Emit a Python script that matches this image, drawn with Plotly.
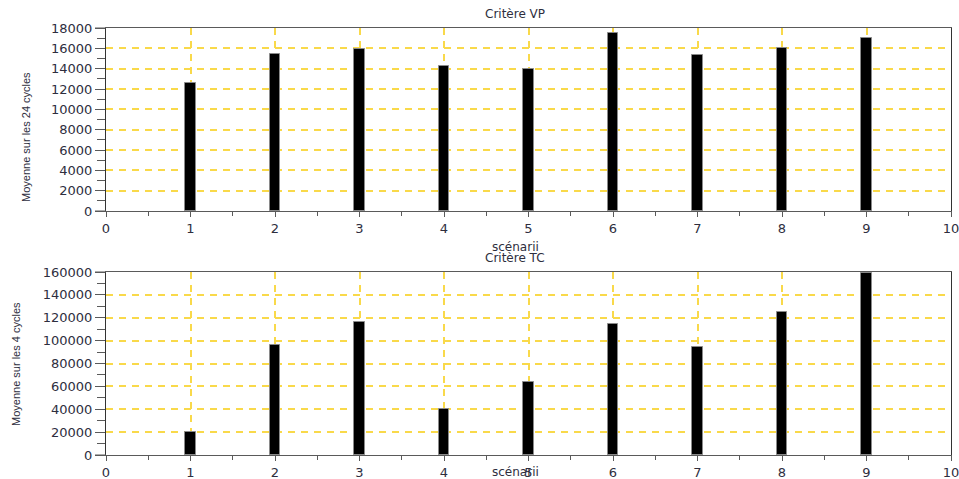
import plotly.graph_objects as go

scenarios = [1, 2, 3, 4, 5, 6, 7, 8, 9]
vp_values = [12600, 15400, 15900, 14300, 14000, 17500, 15300, 16050, 17000]
tc_values = [20400, 96500, 116500, 40000, 63500, 114500, 94000, 124800, 159500]
title_vp = "Critère VP"
title_tc = "Critère TC"
xlabel = "scénarii"
ylabel_vp = "Moyenne sur les 24 cycles"
ylabel_tc = "Moyenne sur les 4 cycles"

W, H = 959, 479
x0, x1 = 106 / W, 951 / W
top_dom = [(479 - 211) / H, (479 - 28) / H]
bot_dom = [(479 - 455) / H, (479 - 272) / H]

grid_col = "#F9D94A"
grid_dash = "7px,6px"
axis_col = "#5a5a5a"
tick_font = dict(family="DejaVu Sans", size=13, color="#2e2e3e")

fig = go.Figure()
fig.add_trace(go.Bar(x=scenarios, y=vp_values, width=0.12, xaxis="x", yaxis="y",
                     marker=dict(color="black", line=dict(color="#8a8a8a", width=1)),
                     showlegend=False))
fig.add_trace(go.Bar(x=scenarios, y=tc_values, width=0.12, xaxis="x2", yaxis="y2",
                     marker=dict(color="black", line=dict(color="#8a8a8a", width=1)),
                     showlegend=False))

no_minor_grid = dict(showgrid=False)

def xax(anchor):
    return dict(domain=[x0, x1], anchor=anchor, range=[0, 10], tick0=0, dtick=1,
                showgrid=True, gridcolor=grid_col, griddash=grid_dash, gridwidth=2,
                zeroline=False, showline=True, linecolor=axis_col, linewidth=1, mirror=True,
                ticks="outside", ticklen=5, tickcolor=axis_col, ticklabeloverflow="allow",
                minor=dict(dtick=0.5, tick0=0, ticks="outside", ticklen=4, tickcolor=axis_col, **no_minor_grid),
                tickfont=tick_font, automargin=False, fixedrange=True)

def yax(anchor, dom, top, step):
    return dict(domain=dom, anchor=anchor, range=[0, top], tick0=0, dtick=step,
                tickformat="d",
                showgrid=True, gridcolor=grid_col, griddash=grid_dash, gridwidth=2,
                zeroline=False, showline=True, linecolor="#333", linewidth=1, mirror=True,
                ticks="outside", ticklen=10, tickcolor=axis_col, ticklabeloverflow="allow",
                minor=dict(dtick=step / 2, tick0=0, ticks="outside", ticklen=8, tickcolor=axis_col, **no_minor_grid),
                tickfont=tick_font, automargin=False, fixedrange=True)

fig.update_layout(
    width=W, height=H,
    margin=dict(l=0, r=0, t=0, b=0),
    paper_bgcolor="white", plot_bgcolor="white",
    bargap=0,
    xaxis=xax("y"),
    yaxis=yax("x", top_dom, 18000, 2000),
    xaxis2=xax("y2"),
    yaxis2=yax("x2", bot_dom, 160000, 20000),
)

title_font = dict(family="DejaVu Sans", size=12, color="#2e2e3e")
label_font = dict(family="Liberation Sans", size=11, color="#2e2e3e")
annots = [
    dict(text=title_vp, x=515 / W, y=1 - 14 / H, font=title_font),
    dict(text=xlabel, x=515 / W, y=1 - 247 / H, font=title_font),
    dict(text=title_tc, x=515 / W, y=1 - 258 / H, font=title_font),
    dict(text=xlabel, x=515 / W, y=1 - 472 / H, font=title_font),
    dict(text=ylabel_vp, x=26 / W, y=1 - 137 / H, font=label_font, textangle=-90),
    dict(text=ylabel_tc, x=16 / W, y=1 - 364 / H, font=label_font, textangle=-90),
]
for a in annots:
    fig.add_annotation(xref="paper", yref="paper", showarrow=False,
                       xanchor="center", yanchor="middle", **a)

# box extensions to the left of the y axis (Scilab style)
for yy in [top_dom[0], top_dom[1], bot_dom[0], bot_dom[1]]:
    fig.add_shape(type="line", xref="paper", yref="paper", x0=95 / W, x1=x0, y0=yy, y1=yy,
                  line=dict(color=axis_col, width=1))

fig.write_html("out.html", config={"displayModeBar": False},
               post_script="document.body.style.margin='0';document.body.style.overflow='hidden';")
